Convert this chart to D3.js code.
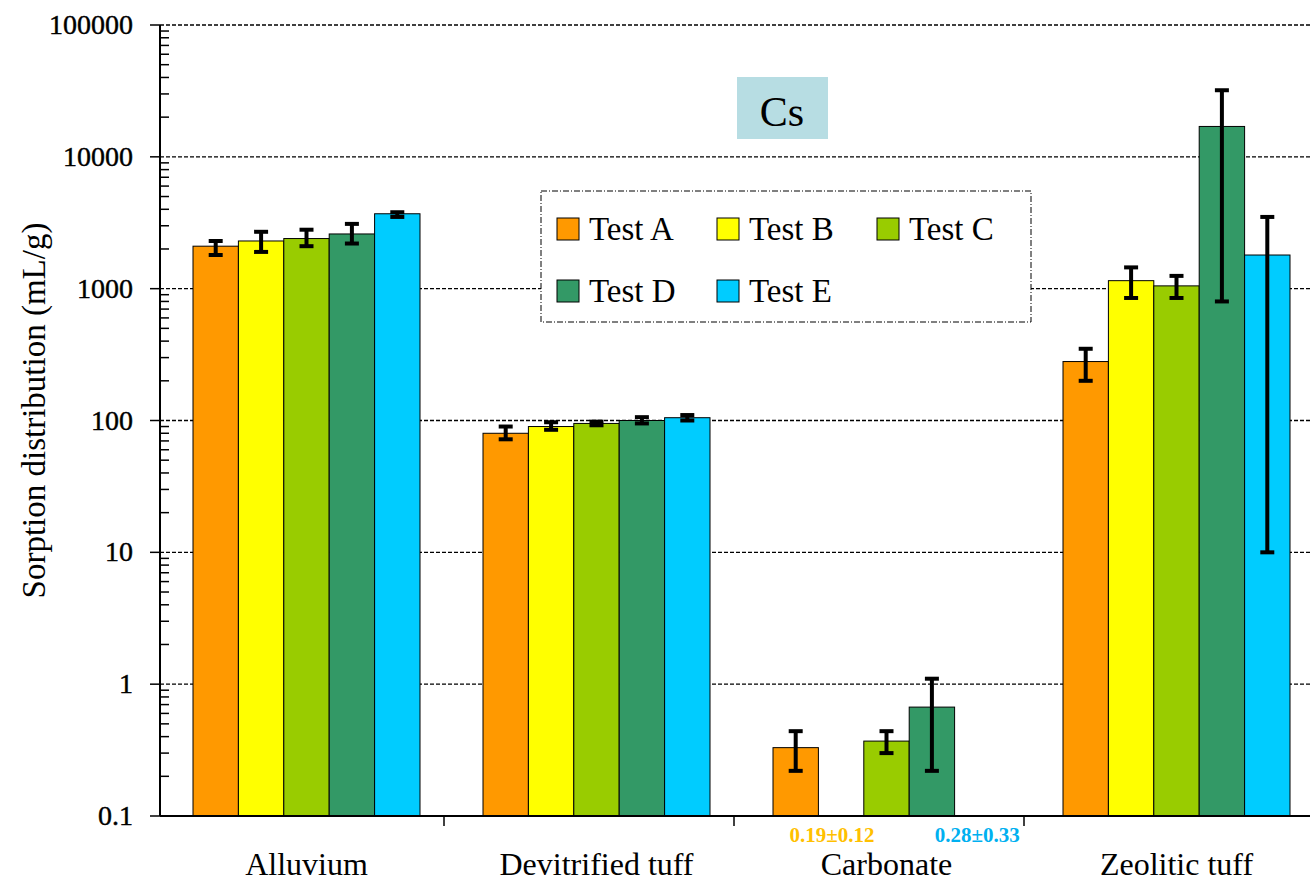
<!DOCTYPE html>
<html><head><meta charset="utf-8">
<script src="https://cdn.jsdelivr.net/npm/d3@7"></script>
<style>body{margin:0;background:#fff}svg{font-family:"Liberation Serif","Times New Roman",serif}</style>
</head><body><div id="chart"></div>
<script>
const categories = ["Alluvium", "Devitrified tuff", "Carbonate", "Zeolitic tuff"];
const tests = ["Test A", "Test B", "Test C", "Test D", "Test E"];
const colors = ["#ff9900", "#ffff00", "#99cc00", "#339966", "#00ccff"];
// values[test][category], null = not plotted
const values = [
  [2100, 80, 0.33, 280],
  [2300, 90, null, 1150],
  [2400, 95, 0.37, 1050],
  [2600, 100, 0.67, 17000],
  [3700, 105, null, 1800]
];
const errLow = [
  [1800, 72, 0.22, 200],
  [1900, 85, null, 850],
  [2100, 92, 0.3, 850],
  [2200, 95, 0.22, 800],
  [3500, 100, null, 10]
];
const errHigh = [
  [2300, 90, 0.44, 350],
  [2700, 97, 0.44, 1450],
  [2800, 98, 0.44, 1250],
  [3100, 106, 1.1, 32000],
  [3800, 110, null, 3500]
];
const yTicks = [0.1, 1, 10, 100, 1000, 10000, 100000];
const notes = [{text: "0.19±0.12", cat: 2, pos: 1, color: "#ffc000"}, {text: "0.28±0.33", cat: 2, pos: 4, color: "#00b0f0"}];

const W = 1314, H = 884, mLeft = 160, mRight = 1310, mTop = 25, mBottom = 816;
const svg = d3.select("#chart").append("svg").attr("width", W).attr("height", H);

const y = d3.scaleLog().domain([0.1, 100000]).range([mBottom, mTop]);
const x0 = d3.scaleBand().domain(categories).range([mLeft, mLeft + 4 * 290]);
const x1 = d3.scaleBand().domain(d3.range(5)).range([33, 33 + 5 * 45.4]);

// grid
svg.append("g").selectAll("line").data(yTicks.slice(1)).enter().append("line")
  .attr("x1", mLeft).attr("x2", mRight).attr("y1", d => y(d)).attr("y2", d => y(d))
  .attr("stroke", "#000").attr("stroke-width", 1.3).attr("stroke-dasharray", "4,2");

// bars
const bars = [];
values.forEach((row, t) => row.forEach((v, c) => { if (v != null) bars.push({t, c, v, lo: errLow[t][c], hi: errHigh[t][c]}); }));
svg.append("g").selectAll("rect").data(bars).enter().append("rect")
  .attr("x", d => x0(categories[d.c]) + x1(d.t)).attr("width", x1.bandwidth())
  .attr("y", d => y(d.v)).attr("height", d => mBottom - y(d.v))
  .attr("fill", d => colors[d.t]).attr("stroke", "#000").attr("stroke-width", 1);

// error bars
const eb = svg.append("g").selectAll("g").data(bars.filter(d => d.lo != null)).enter().append("g")
  .attr("transform", d => `translate(${x0(categories[d.c]) + x1(d.t) + x1.bandwidth() / 2},0)`);
eb.append("line").attr("y1", d => y(d.lo)).attr("y2", d => y(d.hi)).attr("stroke", "#000").attr("stroke-width", 4);
eb.append("line").attr("x1", -7).attr("x2", 7).attr("y1", d => y(d.lo)).attr("y2", d => y(d.lo)).attr("stroke", "#000").attr("stroke-width", 4);
eb.append("line").attr("x1", -7).attr("x2", 7).attr("y1", d => y(d.hi)).attr("y2", d => y(d.hi)).attr("stroke", "#000").attr("stroke-width", 4);

// y axis
const ya = svg.append("g");
ya.append("line").attr("x1", mLeft).attr("x2", mLeft).attr("y1", mTop).attr("y2", mBottom).attr("stroke", "#000").attr("stroke-width", 2);
const minor = [];
yTicks.slice(0, -1).forEach(d => { for (let k = 2; k <= 9; k++) minor.push(d * k); });
ya.selectAll(".mn").data(minor).enter().append("line")
  .attr("x1", mLeft).attr("x2", mLeft + 9).attr("y1", d => y(d)).attr("y2", d => y(d)).attr("stroke", "#000").attr("stroke-width", 1.5);
ya.selectAll(".mj").data(yTicks).enter().append("line")
  .attr("x1", mLeft - 10).attr("x2", mLeft).attr("y1", d => y(d)).attr("y2", d => y(d)).attr("stroke", "#000").attr("stroke-width", 1.5);
ya.selectAll("text").data(yTicks).enter().append("text")
  .attr("x", mLeft - 27).attr("y", d => y(d) + 9).attr("text-anchor", "end")
  .attr("font-size", 28).attr("stroke", "#000").attr("stroke-width", 0.4).text(d => d3.format("")(d));
svg.append("text").attr("transform", `translate(45,${(mTop + mBottom) / 2 - 10}) rotate(-90)`)
  .attr("text-anchor", "middle").attr("font-size", 33).text("Sorption distribution (mL/g)");

// x axis
svg.append("line").attr("x1", mLeft).attr("x2", mRight).attr("y1", mBottom).attr("y2", mBottom).attr("stroke", "#000").attr("stroke-width", 2);
svg.append("g").selectAll("line").data(categories.slice(1)).enter().append("line")
  .attr("x1", d => x0(d) - 6).attr("x2", d => x0(d) - 6).attr("y1", mBottom).attr("y2", mBottom + 10).attr("stroke", "#000").attr("stroke-width", 1.5);
svg.append("g").selectAll("text").data(categories).enter().append("text")
  .attr("x", d => x0(d) + x1.range()[0] + 2.5 * x1.bandwidth()).attr("y", 875).attr("text-anchor", "middle")
  .attr("font-size", 32).text(d => d);
svg.append("g").selectAll("text").data(notes).enter().append("text")
  .attr("x", d => x0(categories[d.cat]) + x1(d.pos) + x1.bandwidth() / 2 + (d.pos === 1 ? -9 : 0)).attr("y", 842).attr("text-anchor", "middle")
  .attr("font-size", 21).attr("font-weight", "bold").attr("fill", d => d.color).text(d => d.text);

// title box
svg.append("rect").attr("x", 737).attr("y", 77).attr("width", 91).attr("height", 62).attr("fill", "#b7dde3");
svg.append("text").attr("x", 782).attr("y", 126).attr("text-anchor", "middle").attr("font-size", 42).text("Cs");

// legend
svg.append("rect").attr("x", 541).attr("y", 191).attr("width", 490).attr("height", 131)
  .attr("fill", "#fff").attr("stroke", "#000").attr("stroke-dasharray", "6,2,1,2");
const lg = svg.append("g").selectAll("g").data(tests).enter().append("g")
  .attr("transform", (d, i) => `translate(${557 + (i % 3) * 160},${i < 3 ? 218 : 280})`);
lg.append("rect").attr("width", 22).attr("height", 22).attr("fill", (d, i) => colors[i]).attr("stroke", "#000");
lg.append("text").attr("x", 32).attr("y", 22).attr("font-size", 33).text(d => d);
</script></body></html>
